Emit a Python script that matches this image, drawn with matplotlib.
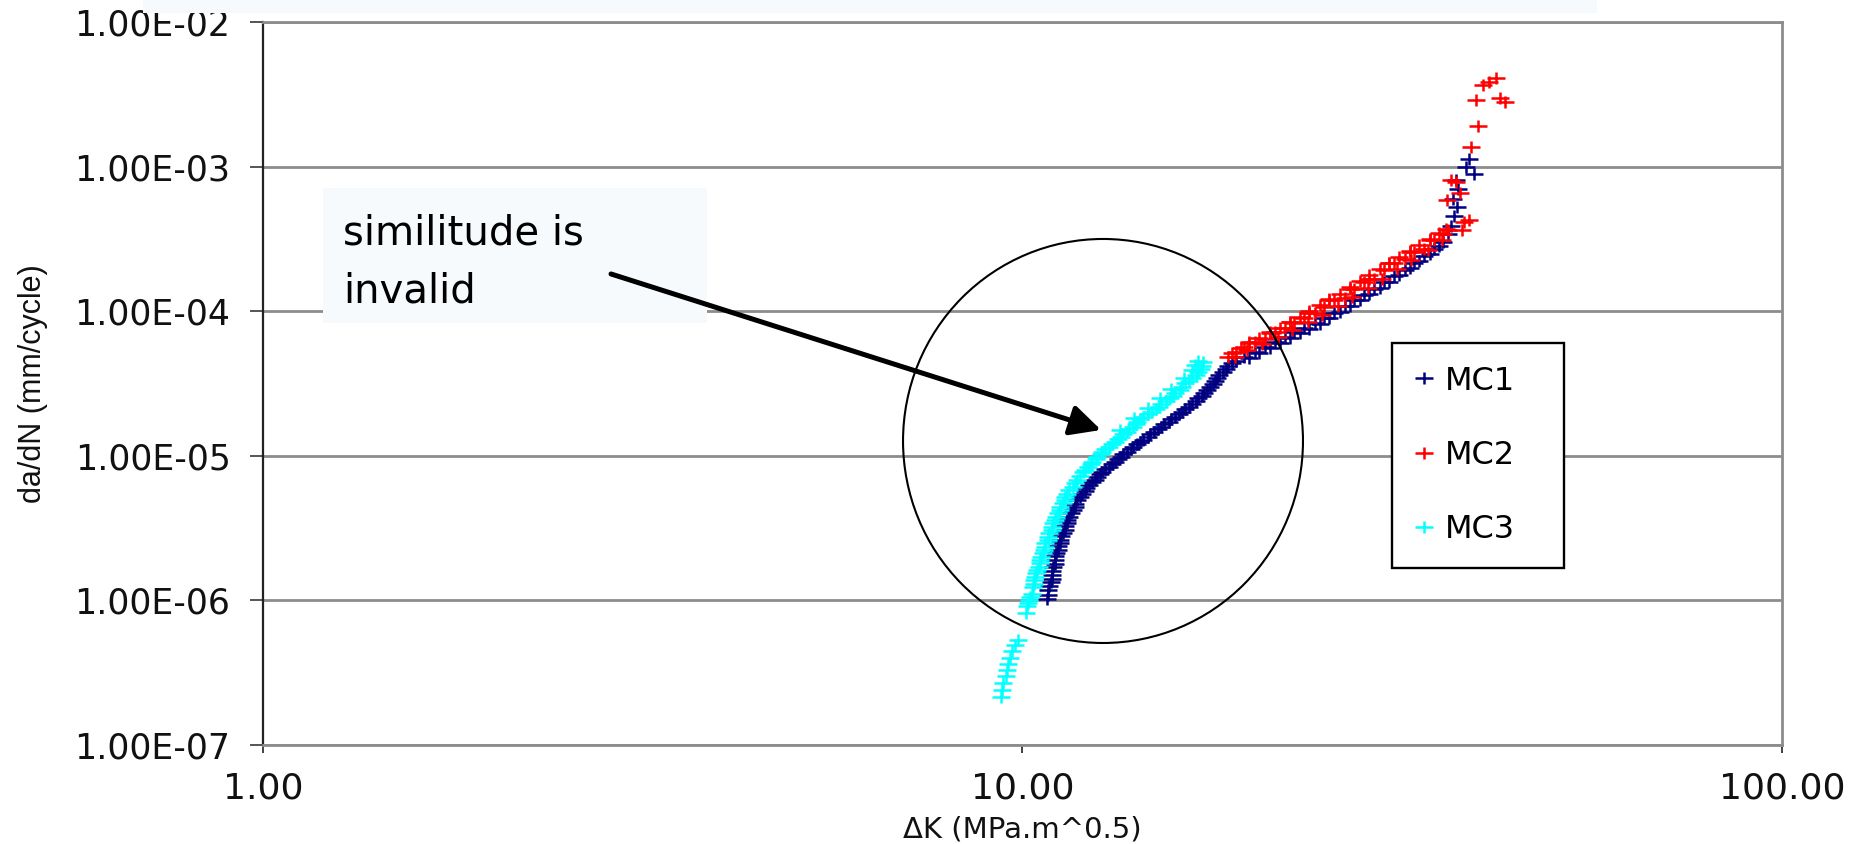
import matplotlib
matplotlib.use("Agg")
import matplotlib.pyplot as plt
from matplotlib import font_manager
from matplotlib.path import Path
from matplotlib.patches import Ellipse, Rectangle, FancyArrowPatch
from matplotlib.ticker import FixedLocator, FixedFormatter, NullLocator

# ---- data: fatigue crack growth rate da/dN vs stress-intensity range dK ----
mc1_dk = [10.76, 10.82, 10.89, 10.92, 10.98, 11.02, 11.08, 11.15, 11.22, 11.29,
          11.39, 11.46, 11.57, 11.71, 11.81, 11.96, 12.14, 12.33, 12.52, 12.74,
          12.98, 13.22, 13.46, 13.71, 14.00, 14.30, 14.61, 14.92, 15.24, 15.57,
          15.90, 16.24, 16.59, 16.90, 17.21, 17.52, 17.79, 18.06, 18.34, 18.67,
          19.13, 19.60, 20.21, 20.83, 21.47, 22.13, 22.81, 23.51, 24.24, 24.98,
          25.75, 26.55, 27.36, 28.20, 29.07, 29.96, 30.88, 31.84, 32.81, 33.83,
          34.87, 35.73, 36.28, 36.61, 36.94, 37.28, 36.83, 37.39, 37.17, 39.25,
          38.42, 38.66,
          10.79, 10.85, 10.92, 10.95, 11.02, 11.05, 11.12, 11.19, 11.25, 11.36,
          11.43, 11.53, 11.64, 11.74, 11.89, 12.07, 12.25, 12.44, 12.63, 12.86,
          13.10, 13.34, 13.58, 13.88, 14.17, 14.43, 14.74, 15.06, 15.38, 15.71,
          16.05, 16.39, 16.74, 17.05, 17.36, 17.63, 17.95, 18.17, 18.51, 18.90,
          19.90, 20.51, 21.15, 21.80, 22.47, 23.16, 23.87, 24.61, 25.36, 26.15,
          26.95, 27.78, 28.63, 29.52, 30.42, 31.36, 32.33, 33.32, 34.35, 35.40]
mc1_dadn = [1.02e-6, 1.18e-6, 1.34e-6, 1.50e-6, 1.70e-6, 1.90e-6, 2.13e-6, 2.38e-6, 2.62e-6, 2.92e-6,
            3.27e-6, 3.60e-6, 4.02e-6, 4.42e-6, 4.95e-6, 5.44e-6, 5.99e-6, 6.59e-6, 7.14e-6, 7.73e-6,
            8.37e-6, 9.06e-6, 9.81e-6, 1.06e-5, 1.15e-5, 1.25e-5, 1.35e-5, 1.46e-5, 1.58e-5, 1.71e-5,
            1.85e-5, 2.01e-5, 2.18e-5, 2.39e-5, 2.59e-5, 2.85e-5, 3.14e-5, 3.45e-5, 3.80e-5, 4.18e-5,
            4.52e-5, 4.82e-5, 5.22e-5, 5.65e-5, 6.12e-5, 6.63e-5, 7.18e-5, 7.65e-5, 8.29e-5, 8.97e-5,
            9.72e-5, 1.09e-4, 1.20e-4, 1.29e-4, 1.42e-4, 1.59e-4, 1.75e-4, 1.93e-4, 2.15e-4, 2.41e-4,
            2.69e-4, 3.01e-4, 3.42e-4, 3.88e-4, 4.55e-4, 5.26e-4, 5.97e-4, 7.00e-4, 8.08e-4, 8.89e-4,
            9.94e-4, 1.13e-3,
            1.09e-6, 1.26e-6, 1.41e-6, 1.60e-6, 1.79e-6, 2.03e-6, 2.23e-6, 2.49e-6, 2.79e-6, 3.07e-6,
            3.43e-6, 3.77e-6, 4.22e-6, 4.64e-6, 5.19e-6, 5.71e-6, 6.28e-6, 6.80e-6, 7.48e-6, 8.10e-6,
            8.78e-6, 9.50e-6, 1.03e-5, 1.11e-5, 1.21e-5, 1.29e-5, 1.42e-5, 1.53e-5, 1.66e-5, 1.80e-5,
            1.95e-5, 2.11e-5, 2.28e-5, 2.51e-5, 2.72e-5, 2.99e-5, 3.29e-5, 3.62e-5, 3.98e-5, 4.38e-5,
            4.75e-5, 5.14e-5, 5.56e-5, 6.03e-5, 6.53e-5, 7.07e-5, 7.53e-5, 8.15e-5, 8.97e-5, 9.87e-5,
            1.09e-4, 1.20e-4, 1.32e-4, 1.45e-4, 1.59e-4, 1.78e-4, 1.99e-4, 2.22e-4, 2.49e-4, 2.82e-4]

mc2_dk = [18.62, 19.13, 19.60, 20.21, 20.83, 21.47, 22.13, 22.81, 23.51, 24.24,
          24.98, 25.75, 26.55, 27.36, 28.20, 29.07, 29.96, 30.88, 31.84, 32.81,
          33.83, 34.87, 35.73, 36.28,
          19.90, 21.15, 22.47, 23.87, 25.36, 26.95, 28.63, 30.42, 32.33, 34.35,
          19.02, 19.78, 20.64, 21.67, 22.61, 23.73, 24.76, 25.99, 27.12, 28.47,
          29.70, 31.17, 32.52, 34.14, 35.62,
          18.85, 19.37, 19.90, 20.51, 21.15, 21.80, 22.47, 23.16, 23.87, 24.61,
          25.36, 26.15, 26.95, 27.78, 28.63, 29.52, 30.42, 31.36, 32.33, 33.32,
          34.35, 35.40, 36.06,
          38.19, 38.66, 37.96, 37.62, 36.17, 37.17, 36.61, 39.01, 39.73, 39.49,
          42.47, 43.12, 41.08, 41.96, 40.34]
mc2_dadn = [4.82e-5, 5.22e-5, 5.65e-5, 6.12e-5, 6.42e-5, 7.18e-5, 7.65e-5, 8.29e-5, 8.97e-5, 9.72e-5,
            1.07e-4, 1.20e-4, 1.23e-4, 1.42e-4, 1.59e-4, 1.67e-4, 1.93e-4, 2.15e-4, 2.30e-4, 2.57e-4,
            2.69e-4, 3.11e-4, 3.42e-4, 3.64e-4,
            6.12e-5, 7.18e-5, 8.42e-5, 9.72e-5, 1.20e-4, 1.42e-4, 1.67e-4, 2.15e-4, 2.57e-4, 3.11e-4,
            4.82e-5, 5.39e-5, 5.93e-5, 6.63e-5, 7.41e-5, 8.42e-5, 9.41e-5, 1.09e-4, 1.25e-4, 1.45e-4,
            1.67e-4, 1.96e-4, 2.26e-4, 2.65e-4, 3.11e-4,
            5.14e-5, 5.56e-5, 6.03e-5, 6.53e-5, 7.07e-5, 7.65e-5, 8.42e-5, 9.12e-5, 1.00e-4, 1.10e-4,
            1.21e-4, 1.32e-4, 1.47e-4, 1.62e-4, 1.78e-4, 1.96e-4, 2.15e-4, 2.37e-4, 2.61e-4, 2.87e-4,
            3.16e-4, 3.47e-4, 3.70e-4,
            4.14e-4, 4.27e-4, 3.64e-4, 6.57e-4, 5.87e-4, 7.83e-4, 8.08e-4, 1.37e-3, 1.91e-3, 2.89e-3,
            2.98e-3, 2.80e-3, 3.85e-3, 4.10e-3, 3.67e-3]

mc3_dk = [9.38, 9.41, 9.44, 9.50, 9.53, 9.58, 9.64, 9.70, 9.79, 9.85,
          10.12, 10.15, 10.21, 10.28, 10.31, 10.37, 10.43, 10.50, 10.56, 10.63,
          10.69, 10.79, 10.85, 10.95, 11.02, 11.12, 11.22, 11.36, 11.46, 11.64,
          11.81, 12.00, 12.18, 12.36, 12.55, 12.74, 12.98, 13.22, 13.46, 13.71,
          13.96, 14.17, 14.43, 14.79, 15.11, 15.43, 15.76, 16.10, 16.39, 16.74,
          17.05, 17.21, 17.05,
          10.18, 10.24, 10.34, 10.40, 10.46, 10.53, 10.59, 10.66, 10.72, 10.82,
          10.92, 10.98, 11.08, 11.19, 11.29, 11.39, 11.53, 11.71, 11.89, 12.07,
          12.29, 12.48, 12.67, 12.86, 13.10, 13.34, 13.58, 13.83, 14.09, 14.30,
          14.61, 14.97, 15.24, 15.62, 15.90, 16.24, 16.59, 16.90, 17.16, 16.85,
          17.26,
          13.42, 14.04, 14.61, 15.17, 15.71, 16.34, 16.70]
mc3_dadn = [2.15e-7, 2.40e-7, 2.69e-7, 3.00e-7, 3.30e-7, 3.63e-7, 4.00e-7, 4.47e-7, 4.92e-7, 5.32e-7,
            8.18e-7, 9.15e-7, 1.01e-6, 1.11e-6, 1.24e-6, 1.38e-6, 1.55e-6, 1.70e-6, 1.90e-6, 2.13e-6,
            2.34e-6, 2.62e-6, 2.92e-6, 3.22e-6, 3.60e-6, 4.02e-6, 4.42e-6, 4.95e-6, 5.44e-6, 6.08e-6,
            6.80e-6, 7.73e-6, 8.37e-6, 9.06e-6, 9.81e-6, 1.06e-5, 1.15e-5, 1.25e-5, 1.35e-5, 1.46e-5,
            1.58e-5, 1.71e-5, 1.85e-5, 2.01e-5, 2.18e-5, 2.39e-5, 2.59e-5, 2.85e-5, 3.19e-5, 3.45e-5,
            3.80e-5, 4.18e-5, 4.52e-5,
            9.59e-7, 1.06e-6, 1.30e-6, 1.45e-6, 1.62e-6, 1.81e-6, 2.00e-6, 2.23e-6, 2.49e-6, 2.74e-6,
            3.07e-6, 3.43e-6, 3.77e-6, 4.22e-6, 4.72e-6, 5.19e-6, 5.80e-6, 6.49e-6, 7.25e-6, 7.98e-6,
            8.78e-6, 9.50e-6, 1.03e-5, 1.11e-5, 1.21e-5, 1.31e-5, 1.42e-5, 1.53e-5, 1.66e-5, 1.80e-5,
            1.95e-5, 2.11e-5, 2.28e-5, 2.51e-5, 2.72e-5, 2.99e-5, 3.29e-5, 3.62e-5, 3.98e-5, 4.25e-5,
            4.45e-5,
            1.51e-5, 1.82e-5, 2.14e-5, 2.51e-5, 2.90e-5, 3.45e-5, 3.92e-5]

series_names = ["MC1", "MC2", "MC3"]
series_colors = ["#000080", "#ff0000", "#00ffff"]

x_ticks = [1.0, 10.0, 100.0]
x_tick_labels = ["1.00", "10.00", "100.00"]
y_ticks = [1e-7, 1e-6, 1e-5, 1e-4, 1e-3, 1e-2]
y_tick_labels = ["1.00E-07", "1.00E-06", "1.00E-05", "1.00E-04", "1.00E-03", "1.00E-02"]

x_label = "\u0394K (MPa.m^0.5)"
y_label = "da/dN (mm/cycle)"
note_lines = ["similitude is", "invalid"]

# ---- fonts ----
installed = {f.name for f in font_manager.fontManager.ttflist}
if "Liberation Sans Narrow" in installed:
    ylabel_font, ylabel_size = "Liberation Sans Narrow", 25
else:
    ylabel_font, ylabel_size = "Liberation Sans", 22
plt.rcParams["font.family"] = ["DejaVu Sans"]

# wide "+" marker (wider than tall)
plus = Path([(-1.5, 0), (1.5, 0), (0, -1), (0, 1)],
            [Path.MOVETO, Path.LINETO, Path.MOVETO, Path.LINETO])

fig = plt.figure(figsize=(18.6, 8.44), dpi=100)
ax = fig.add_axes([0.14140, 0.11730, 0.81666, 0.85663])
ax.set_xscale("log")
ax.set_yscale("log")
ax.set_xlim(1, 100)
ax.set_ylim(1e-7, 1e-2)

for xs, ys, name, col in zip([mc1_dk, mc2_dk, mc3_dk], [mc1_dadn, mc2_dadn, mc3_dadn],
                             series_names, series_colors):
    ax.plot(xs, ys, linestyle="none", marker=plus, markersize=13, markeredgewidth=1.8,
            markeredgecolor=col, markerfacecolor="none", label=name, zorder=3)

# axes styling
grid_col = "#8c8c8c"
ax.yaxis.grid(True, color=grid_col, linewidth=2.0, zorder=0)
ax.xaxis.grid(False)
ax.set_axisbelow(True)
for side in ("top", "bottom", "right"):
    ax.spines[side].set_color(grid_col)
    ax.spines[side].set_linewidth(2.0)
ax.spines["left"].set_color("#222222")
ax.spines["left"].set_linewidth(1.6)

ax.xaxis.set_major_locator(FixedLocator(x_ticks))
ax.xaxis.set_major_formatter(FixedFormatter(x_tick_labels))
ax.yaxis.set_major_locator(FixedLocator(y_ticks))
ax.yaxis.set_major_formatter(FixedFormatter(y_tick_labels))
ax.xaxis.set_minor_locator(NullLocator())
ax.yaxis.set_minor_locator(NullLocator())
ax.tick_params(axis="y", direction="out", length=9.4, width=1.4, color="#555555",
               pad=14, labelsize=25, labelcolor="#111111")
ax.tick_params(axis="x", direction="out", length=5.8, width=1.3, color="#333333",
               pad=13, labelsize=26, labelcolor="#111111")

ax.set_xlabel(x_label, fontsize=21, color="#111111")
ax.xaxis.label.set_verticalalignment("baseline")
ax.xaxis.set_label_coords(0.5, -0.128)
ax.set_ylabel(y_label, fontsize=ylabel_size, family=ylabel_font, color="#111111")
ax.yaxis.set_label_coords(-0.1415, 0.5)

leg = ax.legend(loc="upper left", bbox_to_anchor=(0.7432, 0.2475, 0.1132, 0.309),
                mode="expand", borderaxespad=0, fontsize=23, frameon=True, fancybox=False,
                framealpha=1, edgecolor="black", handlelength=0.56, handletextpad=0.38,
                borderpad=0.72, labelspacing=1.35, numpoints=1)
leg.get_frame().set_linewidth(1.7)
leg.set_zorder(6)

# circled region, note box and arrow
ax.add_patch(Ellipse((0.5530, 0.4205), 0.2633, 0.5588, transform=ax.transAxes,
                     fill=False, edgecolor="black", linewidth=1.5, zorder=5, clip_on=False))
ax.add_patch(Rectangle((0.0395, 0.5837), 0.2528, 0.1867, transform=ax.transAxes,
                       facecolor="#f6fafd", edgecolor="none", zorder=7, clip_on=False))
for line, yb in zip(note_lines, (0.6916, 0.6127)):
    ax.text(0.0527, yb, line, transform=ax.transAxes, fontsize=29, color="black",
            ha="left", va="baseline", zorder=8)
ax.add_patch(FancyArrowPatch((0.2291, 0.6515), (0.5517, 0.4357), transform=ax.transAxes,
                             arrowstyle="-|>", mutation_scale=46, linewidth=3.6,
                             color="black", shrinkA=0, shrinkB=0, zorder=9, clip_on=False))

# faint band along the top edge
fig.patches.append(Rectangle((143 / 1860, 1 - 13 / 844), (1597 - 143) / 1860, 13 / 844,
                             transform=fig.transFigure, facecolor="#f7fafc",
                             edgecolor="none", zorder=0))

fig.savefig("out.png", dpi=100, facecolor="white")
